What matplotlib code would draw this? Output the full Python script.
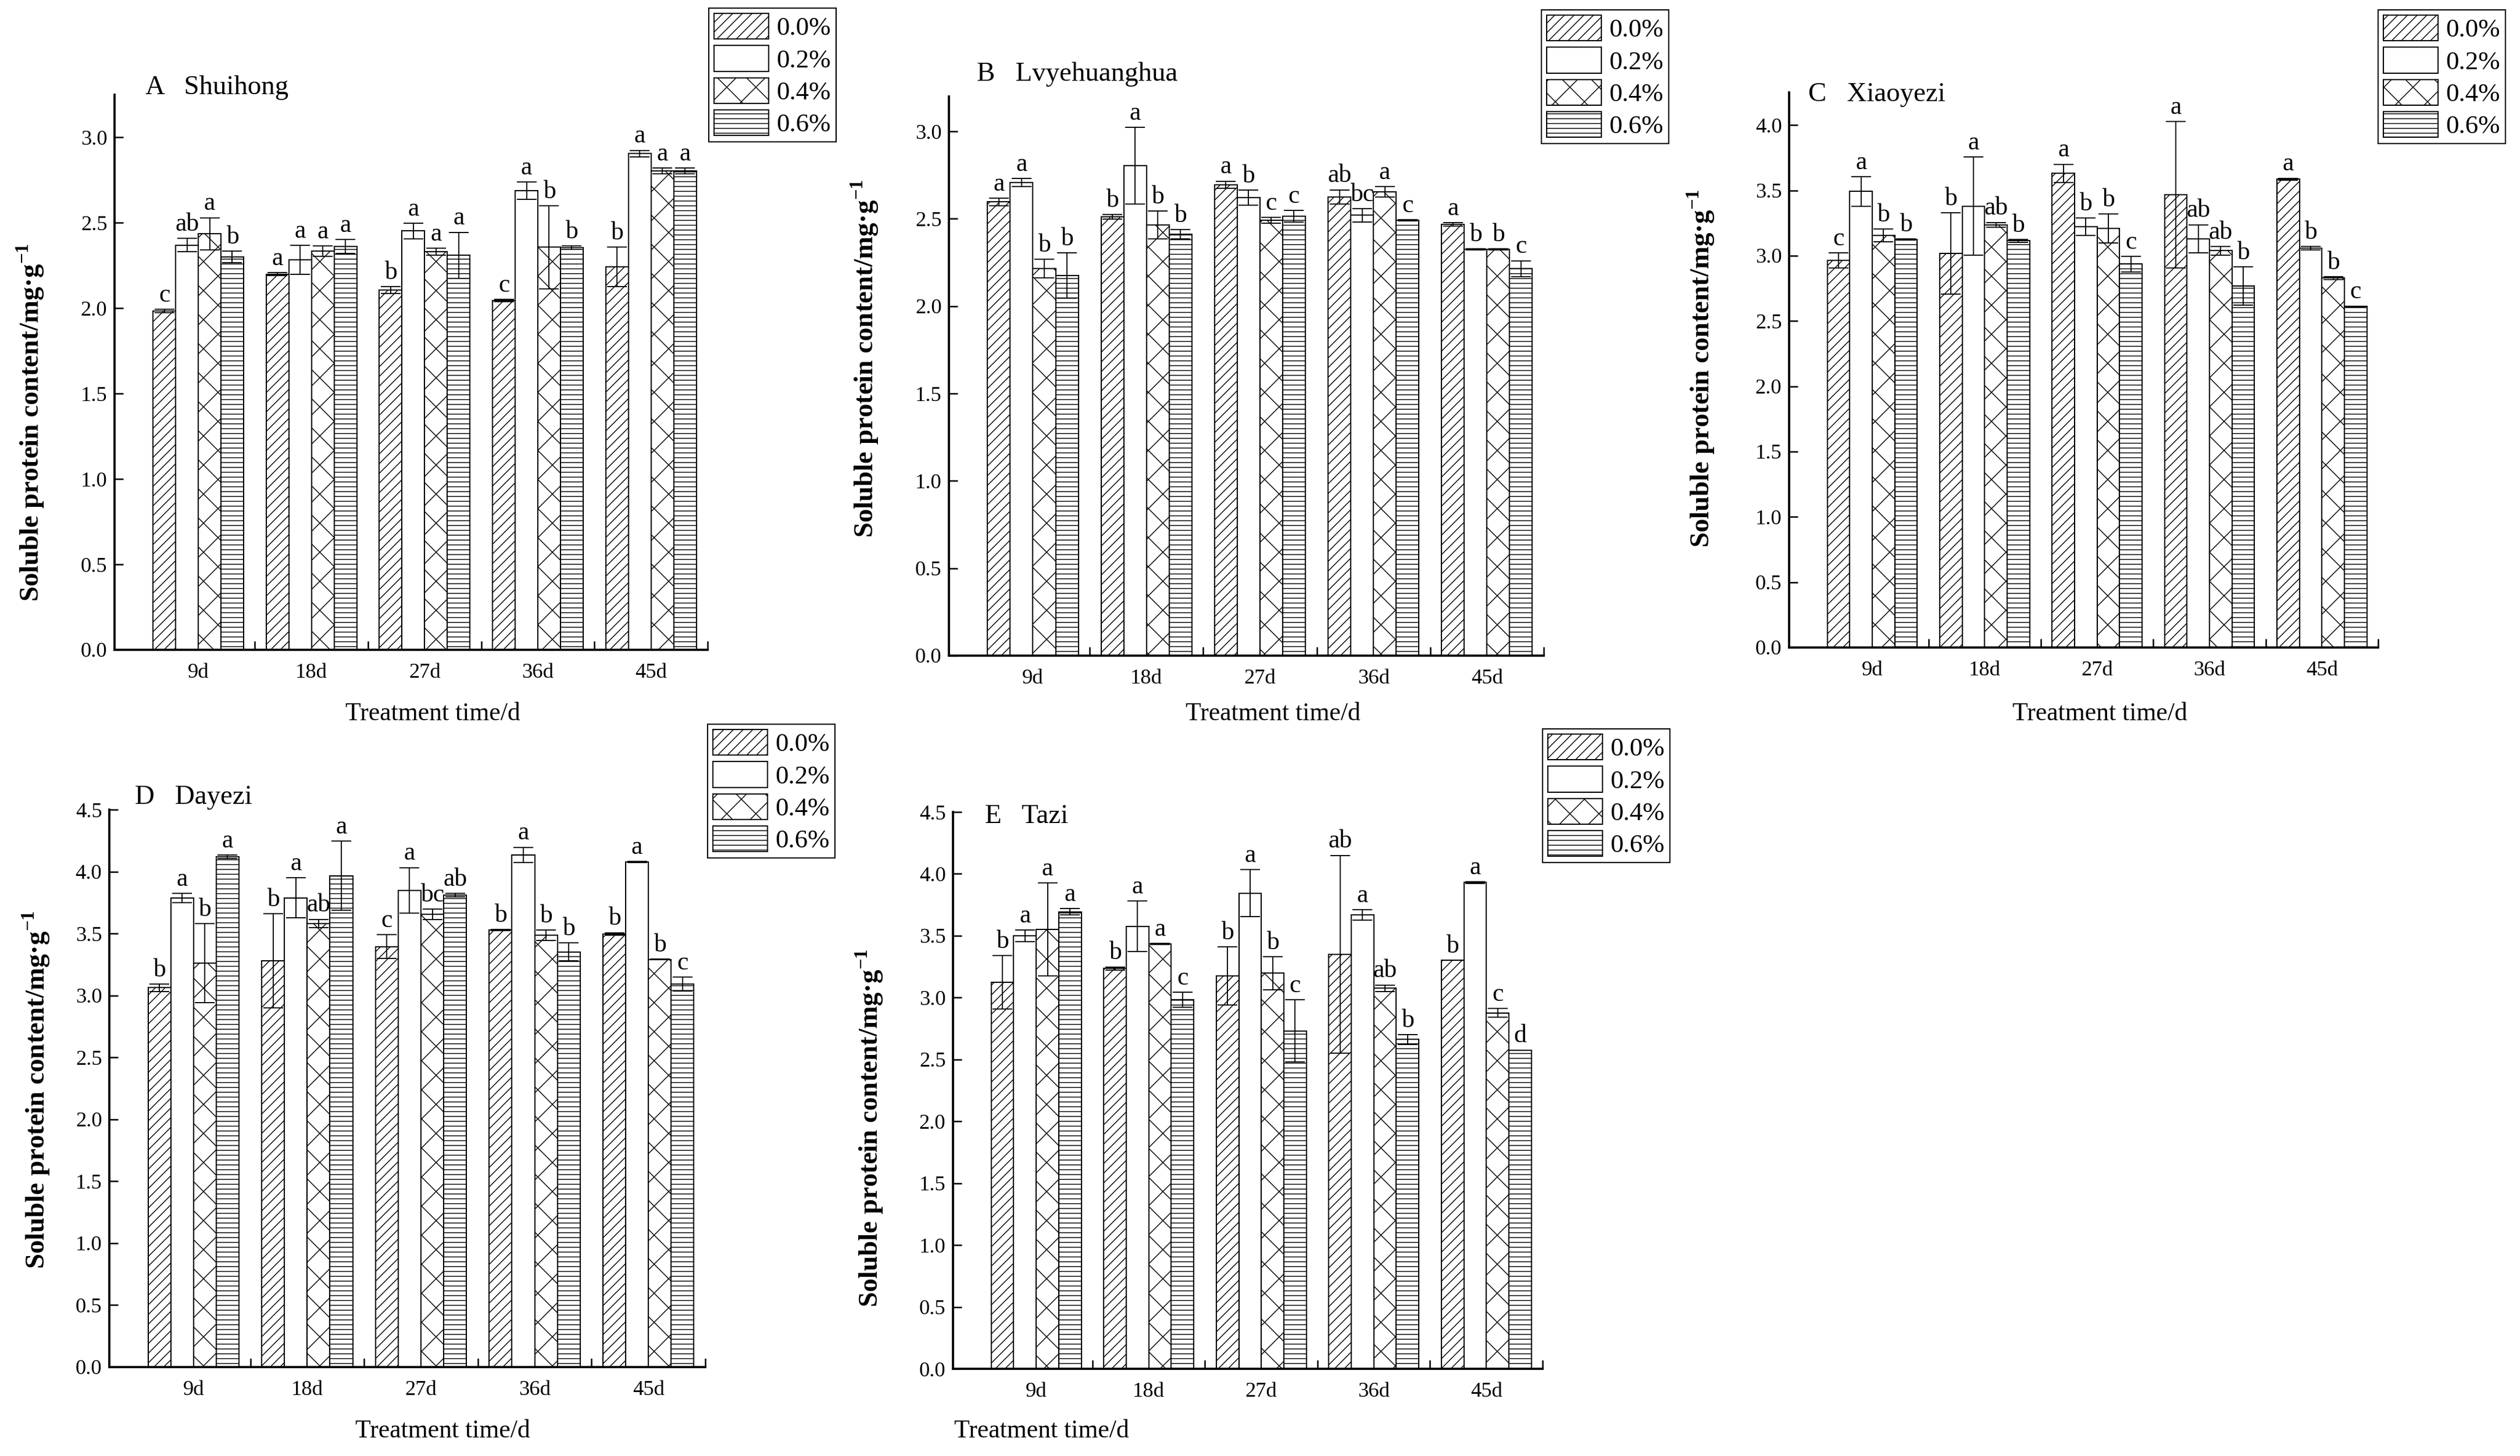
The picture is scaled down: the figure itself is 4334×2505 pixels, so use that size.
import numpy as np
import matplotlib.pyplot as plt

plt.rcParams.update({
    'font.family': 'Liberation Serif',
    'mathtext.fontset': 'custom',
    'mathtext.rm': 'Liberation Serif',
    'mathtext.bf': 'Liberation Serif:bold',
    'hatch.linewidth': 0.7,
    'hatch.color': 'black',
})

W, H, DPI = 4334, 2505, 150

days = ['9d', '18d', '27d', '36d', '45d']
levels = ['0.0%', '0.2%', '0.4%', '0.6%']
hatches = ['///', '', 'x', '---']

# rows = concentration (0.0, 0.2, 0.4, 0.6 %), columns = days
shuihong_mean = [[1.985, 2.200, 2.107, 2.045, 2.243],
                 [2.370, 2.283, 2.452, 2.688, 2.905],
                 [2.435, 2.335, 2.332, 2.357, 2.805],
                 [2.300, 2.362, 2.310, 2.354, 2.805]]
shuihong_err = [[0.010, 0.008, 0.020, 0.008, 0.115],
                [0.040, 0.085, 0.047, 0.050, 0.020],
                [0.095, 0.030, 0.020, 0.243, 0.017],
                [0.035, 0.040, 0.135, 0.010, 0.017]]
shuihong_sig = [['c', 'a', 'b', 'c', 'b'],
                ['ab', 'a', 'a', 'a', 'a'],
                ['a', 'a', 'a', 'b', 'a'],
                ['b', 'a', 'a', 'b', 'a']]

lvye_mean = [[2.597, 2.512, 2.695, 2.626, 2.467],
             [2.708, 2.804, 2.621, 2.520, 2.324],
             [2.215, 2.464, 2.491, 2.653, 2.324],
             [2.175, 2.411, 2.515, 2.491, 2.215]]
lvye_err = [[0.021, 0.013, 0.021, 0.040, 0.010],
            [0.024, 0.220, 0.042, 0.037, 0.003],
            [0.053, 0.080, 0.016, 0.030, 0.003],
            [0.130, 0.027, 0.032, 0.003, 0.045]]
lvye_sig = [['a', 'b', 'a', 'ab', 'a'],
            ['a', 'a', 'b', 'bc', 'b'],
            ['b', 'b', 'c', 'a', 'b'],
            ['b', 'b', 'c', 'c', 'c']]

xiaoyezi_mean = [[2.964, 3.017, 3.631, 3.468, 3.585],
                 [3.492, 3.379, 3.223, 3.130, 3.056],
                 [3.155, 3.237, 3.209, 3.038, 2.829],
                 [3.123, 3.113, 2.935, 2.768, 2.612]]
xiaoyezi_err = [[0.058, 0.310, 0.069, 0.560, 0.008],
                [0.114, 0.376, 0.067, 0.107, 0.014],
                [0.050, 0.018, 0.110, 0.032, 0.010],
                [0.005, 0.010, 0.060, 0.147, 0.002]]
xiaoyezi_sig = [['c', 'b', 'a', 'a', 'a'],
                ['a', 'a', 'b', 'ab', 'b'],
                ['b', 'ab', 'b', 'ab', 'b'],
                ['b', 'b', 'c', 'b', 'c']]

dayezi_mean = [[3.063, 3.280, 3.394, 3.528, 3.497],
               [3.787, 3.787, 3.848, 4.134, 4.077],
               [3.261, 3.581, 3.657, 3.486, 3.291],
               [4.119, 3.966, 3.810, 3.352, 3.093]]
dayezi_err = [[0.030, 0.380, 0.095, 0.004, 0.010],
              [0.038, 0.162, 0.185, 0.063, 0.004],
              [0.320, 0.034, 0.042, 0.044, 0.002],
              [0.015, 0.280, 0.015, 0.072, 0.057]]
dayezi_sig = [['b', 'b', 'c', 'b', 'b'],
              ['a', 'a', 'a', 'a', 'a'],
              ['b', 'ab', 'bc', 'b', 'b'],
              ['a', 'a', 'ab', 'b', 'c']]

tazi_mean = [[3.124, 3.235, 3.174, 3.350, 3.300],
             [3.499, 3.575, 3.843, 3.667, 3.930],
             [3.552, 3.434, 3.197, 3.075, 2.876],
             [3.694, 2.983, 2.731, 2.662, 2.574]]
tazi_err = [[0.216, 0.013, 0.235, 0.800, 0.000],
            [0.048, 0.204, 0.190, 0.042, 0.006],
            [0.376, 0.004, 0.134, 0.027, 0.036],
            [0.025, 0.060, 0.250, 0.040, 0.002]]
tazi_sig = [['b', 'b', 'b', 'ab', 'b'],
            ['a', 'a', 'a', 'a', 'a'],
            ['a', 'a', 'b', 'ab', 'c'],
            ['a', 'c', 'c', 'b', 'd']]

# layout in pixels: axes box (left, right, bottom, top), ylim top,
# title anchor, legend upper-left, ylabel centre, xlabel centre
panels = [
    dict(title='A   Shuihong', mean=shuihong_mean, err=shuihong_err, sig=shuihong_sig,
         box=(197, 1217, 1118, 163), ymax=3.25, yticks=np.arange(0, 3.01, 0.5),
         tpos=(250, 151), leg=(1219, 14), ylab=(52, 727), xlab=(744, 1228)),
    dict(title='B   Lvyehuanghua', mean=lvye_mean, err=lvye_err, sig=lvye_sig,
         box=(1632, 2655, 1128, 166), ymax=3.2, yticks=np.arange(0, 3.01, 0.5),
         tpos=(1680, 128), leg=(2651, 17), ylab=(1487, 617), xlab=(2189, 1228)),
    dict(title='C   Xiaoyezi', mean=xiaoyezi_mean, err=xiaoyezi_err, sig=xiaoyezi_sig,
         box=(3077, 4090, 1114, 159), ymax=4.25, yticks=np.arange(0, 4.01, 0.5),
         tpos=(3110, 163), leg=(4090, 17), ylab=(2925, 634), xlab=(3611, 1228)),
    dict(title='D   Dayezi', mean=dayezi_mean, err=dayezi_err, sig=dayezi_sig,
         box=(188, 1213, 2352, 1393), ymax=4.5, yticks=np.arange(0, 4.51, 0.5),
         tpos=(232, 1372), leg=(1217, 1246), ylab=(62, 1875), xlab=(761, 2462)),
    dict(title='E   Tazi', mean=tazi_mean, err=tazi_err, sig=tazi_sig,
         box=(1639, 2653, 2355, 1397), ymax=4.5, yticks=np.arange(0, 4.51, 0.5),
         tpos=(1694, 1405), leg=(2653, 1254), ylab=(1495, 1941), xlab=(1791, 2462)),
]

fig = plt.figure(figsize=(W / DPI, H / DPI), dpi=DPI)
x = np.arange(1, len(days) + 1)
width = 0.2

for p in panels:
    l, r, b, t = p['box']
    ax = fig.add_axes([l / W, 1 - b / H, (r - l) / W, (b - t) / H])
    bars = []
    for j in range(len(levels)):
        xs = x + (j - 1.5) * width
        means = np.array(p['mean'][j])
        errs = np.array(p['err'][j])
        bc = ax.bar(xs, means, width, color='white', edgecolor='black',
                    linewidth=1.0, hatch=hatches[j], label=levels[j], zorder=2)
        bars.append(bc)
        ax.errorbar(xs, means, yerr=errs, fmt='none', ecolor='black',
                    elinewidth=0.9, capsize=8, capthick=0.9, zorder=3)
        for xi, m, e, s in zip(xs, means, errs, p['sig'][j]):
            ax.annotate(s, (xi, m + e), xytext=(0, 2), textcoords='offset points',
                        ha='center', va='bottom', fontsize=21)

    ax.set_xlim(0.26, 5.5)
    ax.set_ylim(0, p['ymax'])
    ax.set_yticks(p['yticks'])
    ax.set_xticks(x)
    ax.set_xticklabels(days)
    ax.set_xticks(np.arange(1.5, 5.6, 1.0), minor=True)
    ax.tick_params(axis='x', which='major', length=0, pad=11, labelsize=17.5)
    ax.tick_params(axis='x', which='minor', direction='in', length=7, width=1.2)
    ax.tick_params(axis='y', direction='in', length=7, width=1.2, pad=6,
                   labelsize=17.5)
    for side in ('top', 'right'):
        ax.spines[side].set_visible(False)
    for side in ('left', 'bottom'):
        ax.spines[side].set_linewidth(1.8)

    leg = ax.legend(handles=bars, loc='upper left',
                    bbox_to_anchor=(p['leg'][0] / W, 1 - p['leg'][1] / H),
                    bbox_transform=fig.transFigure, borderaxespad=0,
                    fontsize=21.5, handlelength=2.1, handleheight=1.15,
                    handletextpad=0.3, labelspacing=0.2, borderpad=0.2,
                    fancybox=False, framealpha=1, edgecolor='black')
    leg.get_frame().set_linewidth(1.0)

    fig.text(p['tpos'][0] / W, 1 - p['tpos'][1] / H, p['title'],
             ha='left', va='center', fontsize=22.5)
    fig.text(p['ylab'][0] / W, 1 - p['ylab'][1] / H,
             r'Soluble protein content/mg·g$^{\mathbf{-1}}$',
             rotation=90, ha='center', va='center', fontsize=22.5,
             fontweight='bold')
    fig.text(p['xlab'][0] / W, 1 - p['xlab'][1] / H, 'Treatment time/d',
             ha='center', va='center', fontsize=21)

fig.savefig('out.png', dpi=DPI)
